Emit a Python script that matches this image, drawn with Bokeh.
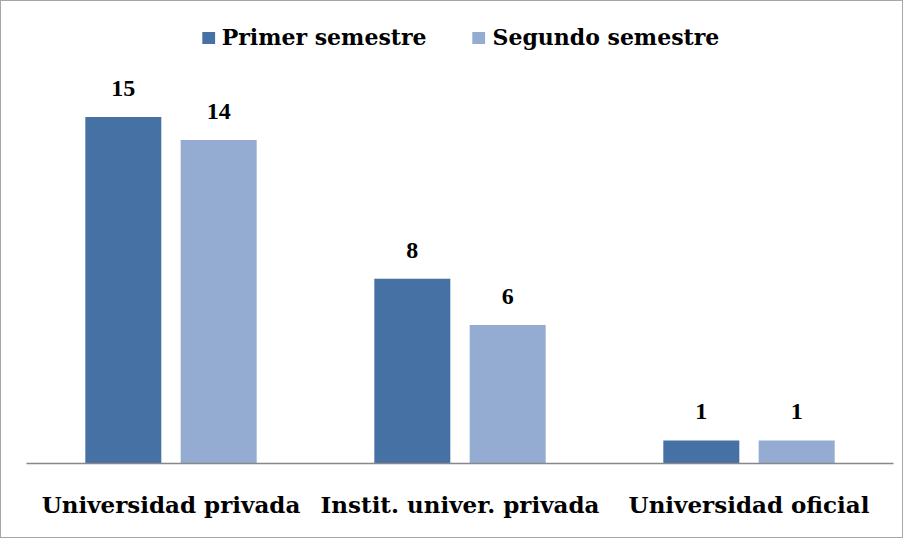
from bokeh.plotting import figure
from bokeh.models import ColumnDataSource, FactorRange, LabelSet, Legend, LegendItem
from bokeh.transform import dodge
from bokeh.embed import file_html
from bokeh.resources import INLINE

categories = ["Universidad privada", "Instit. univer. privada", "Universidad oficial"]
series_names = ["Primer semestre", "Segundo semestre"]
primer = [15, 8, 1]
segundo = [14, 6, 1]
colors = ["#4671A5", "#94ACD2"]

FONT = "DejaVu Serif"

src = ColumnDataSource(data=dict(
    cat=categories,
    primer=primer,
    segundo=segundo,
    primer_lbl=[str(v) for v in primer],
    segundo_lbl=[str(v) for v in segundo],
))

p = figure(
    x_range=FactorRange(*categories), y_range=(0, 20),
    width=903, height=538, output_backend="svg", toolbar_location=None,
    min_border_left=25, min_border_right=11, min_border_top=0, min_border_bottom=76,
)
p.styles = {"border": "1px solid #a6a6a6"}

r1 = p.vbar(x=dodge("cat", -0.165, range=p.x_range), top="primer", width=0.263,
            source=src, color=colors[0], line_color=None)
r2 = p.vbar(x=dodge("cat", 0.165, range=p.x_range), top="segundo", width=0.263,
            source=src, color=colors[1], line_color=None)

for col, off in (("primer", -0.165), ("segundo", 0.165)):
    lbl = LabelSet(x=dodge("cat", off, range=p.x_range), y=col, text=col + "_lbl",
                   source=src, text_align="center", text_baseline="alphabetic",
                   y_offset=21, text_font=FONT, text_font_style="bold",
                   text_font_size="24px", text_color="black")
    p.add_layout(lbl)

legend = Legend(items=[LegendItem(label=series_names[0], renderers=[r1]),
                       LegendItem(label=series_names[1], renderers=[r2])],
                orientation="horizontal", location="top_center",
                glyph_width=16, glyph_height=15, spacing=44, label_standoff=6,
                label_text_font=FONT, label_text_font_style="bold",
                label_text_font_size="22px", label_text_color="black",
                border_line_color=None,
                background_fill_alpha=0, padding=4, margin=23)
p.add_layout(legend, "center")

p.yaxis.visible = False
p.xgrid.visible = False
p.ygrid.visible = False
p.outline_line_color = None
p.xaxis.axis_line_color = "#888888"
p.xaxis.axis_line_width = 1.5
p.xaxis.major_tick_line_color = None
p.xaxis.minor_tick_line_color = None
p.xaxis.major_label_standoff = 21
p.xaxis.major_label_text_font = FONT
p.xaxis.major_label_text_font_style = "bold"
p.xaxis.major_label_text_font_size = "23px"
p.xaxis.major_label_text_color = "black"

open("out.html", "w").write(file_html(p, INLINE))
